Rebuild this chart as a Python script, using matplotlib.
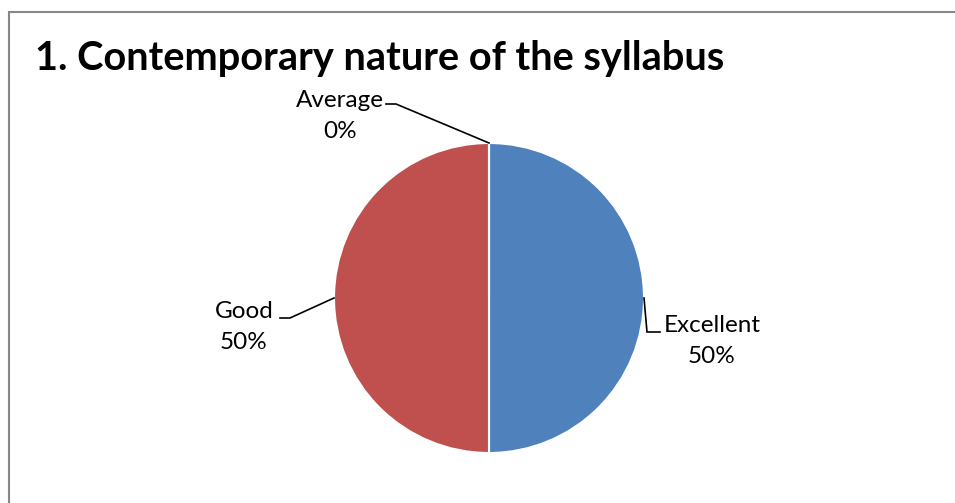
import numpy as np
import matplotlib
matplotlib.use("Agg")
import matplotlib.pyplot as plt
from matplotlib.patches import Rectangle

CATEGORIES = ["Excellent", "Good", "Average"]
PERCENTS = [50, 50, 0]
COLORS = ["#4F81BD", "#C0504D", "#9BBB59"]
TITLE = "1. Contemporary nature of the syllabus"

W, H = 955, 503
fig = plt.figure(figsize=(W / 100, H / 100), dpi=100)
ax = fig.add_axes([0, 0, 1, 1])

plt.rcParams["font.family"] = ["Lato", "DejaVu Sans"]

# chart frame (only left and top edges are inside the crop)
ax.add_patch(Rectangle((9, -10), W + 20, H - 11.5 + 10, fill=False,
                       ec="#878787", lw=1.5))

ax.text(35, H - 70, TITLE, fontsize=28.6, fontweight="bold", ha="left",
        va="baseline", color="black")

cx, cy, r = 489, H - 298, 155
wedges, _ = ax.pie(PERCENTS, colors=COLORS, startangle=90, counterclock=False,
                   center=(cx, cy), radius=r, frame=True,
                   wedgeprops=dict(edgecolor="white", linewidth=1.5))
ax.set_xlim(0, W)
ax.set_ylim(0, H)
ax.axis("off")

# label block centres and leader elbows (pixel layout)
label_pos = {"Excellent": (712, 341), "Good": (244, 327), "Average": (340, 116)}
elbows = {
    "Excellent": [(660, 332), (647, 332)],
    "Good": [(280, 318), (290, 318)],
    "Average": [(386, 104), (396, 104)],
}

for w, name, pct in zip(wedges, CATEGORIES, PERCENTS):
    mid = np.deg2rad((w.theta1 + w.theta2) / 2)
    ax_pt = (cx + r * np.cos(mid), cy + r * np.sin(mid))
    tx, ty = label_pos[name]
    ax.text(tx, H - ty, f"{name}\n{pct}%", fontsize=17.5, ha="center",
            va="center", linespacing=1.57, color="black")
    pts = [(x, H - y) for x, y in elbows[name]] + [ax_pt]
    xs, ys = zip(*pts)
    ax.plot(xs, ys, color="black", lw=1.2, solid_joinstyle="miter")

fig.savefig("out.png", dpi=100)
